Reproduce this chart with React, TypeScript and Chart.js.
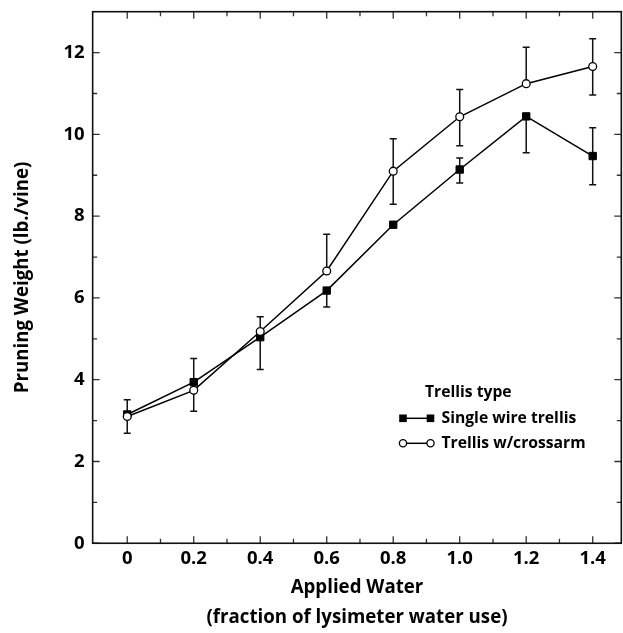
import React, { useEffect, useRef } from 'react';
import { Chart, registerables } from 'chart.js';

Chart.register(...registerables);

// ---- data ----
const waterFractions = [0, 0.2, 0.4, 0.6, 0.8, 1.0, 1.2, 1.4];
const singleWire = [3.15, 3.94, 5.04, 6.18, 7.79, 9.14, 10.44, 9.47];
const singleWireErrUp = [0.36, 0.58, 0, 0, 0, 0.28, 0, 0.69];
const singleWireErrDown = [0, 0, 0.79, 0.4, 0, 0.33, 0.89, 0.7];
const crossarm = [3.1, 3.74, 5.18, 6.66, 9.1, 10.43, 11.24, 11.66];
const crossarmErrUp = [0, 0, 0.36, 0.9, 0.79, 0.67, 0.89, 0.68];
const crossarmErrDown = [0.41, 0.51, 0, 0, 0.81, 0.71, 0, 0.7];

const xTickLabels = [0, 0.2, 0.4, 0.6, 0.8, 1.0, 1.2, 1.4];
const xMinorTicks = [0.1, 0.3, 0.5, 0.7, 0.9, 1.1, 1.3];
const yTickLabels = [0, 2, 4, 6, 8, 10, 12];
const yMinorTicks = [1, 3, 5, 7, 9, 11];

const seriesNames = ['Single wire trellis', 'Trellis w/crossarm'];
const legendTitle = 'Trellis type';
const xTitle = ['Applied Water', '(fraction of lysimeter water use)'];
const yTitle = 'Pruning Weight (lb./vine)';

const FONT = "'Open Sans', 'Noto Sans', sans-serif";

const errorBarPlugin = {
  id: 'errorBars',
  beforeDatasetsDraw(chart: any) {
    const { ctx } = chart;
    const ys = chart.scales.y;
    chart.data.datasets.forEach((ds: any, di: number) => {
      const meta = chart.getDatasetMeta(di);
      ctx.save();
      ctx.strokeStyle = '#111';
      ctx.lineWidth = 1.5;
      meta.data.forEach((pt: any, i: number) => {
        const v = ds.data[i].y;
        const up = ds.errUp[i];
        const down = ds.errDown[i];
        const x = pt.x;
        const cap = 3.5;
        if (up > 0) {
          const yt = ys.getPixelForValue(v + up);
          ctx.beginPath();
          ctx.moveTo(x, pt.y);
          ctx.lineTo(x, yt);
          ctx.moveTo(x - cap, yt);
          ctx.lineTo(x + cap, yt);
          ctx.stroke();
        }
        if (down > 0) {
          const yb = ys.getPixelForValue(v - down);
          ctx.beginPath();
          ctx.moveTo(x, pt.y);
          ctx.lineTo(x, yb);
          ctx.moveTo(x - cap, yb);
          ctx.lineTo(x + cap, yb);
          ctx.stroke();
        }
      });
      ctx.restore();
    });
  },
};

const framePlugin = {
  id: 'frameTicks',
  afterDatasetsDraw(chart: any) {
    const { ctx, chartArea } = chart;
    const { left, right, top, bottom } = chartArea;
    const xs = chart.scales.x;
    const ys = chart.scales.y;
    ctx.save();
    ctx.strokeStyle = '#333';
    ctx.lineWidth = 1.3;
    const major = 7;
    const minor = 4.5;
    const drawX = (vals: number[], len: number) => {
      vals.forEach((v) => {
        const px = xs.getPixelForValue(v);
        ctx.beginPath();
        ctx.moveTo(px, bottom);
        ctx.lineTo(px, bottom - len);
        ctx.moveTo(px, top);
        ctx.lineTo(px, top + len);
        ctx.stroke();
      });
    };
    const drawY = (vals: number[], len: number) => {
      vals.forEach((v) => {
        const py = ys.getPixelForValue(v);
        ctx.beginPath();
        ctx.moveTo(left, py);
        ctx.lineTo(left + len, py);
        ctx.moveTo(right, py);
        ctx.lineTo(right - len, py);
        ctx.stroke();
      });
    };
    drawX(xTickLabels, major);
    drawX(xMinorTicks, minor);
    drawY(yTickLabels, major);
    drawY(yMinorTicks, minor);
    ctx.strokeStyle = '#111';
    ctx.lineWidth = 1.6;
    ctx.strokeRect(left, top, right - left, bottom - top);
    ctx.restore();
  },
};

const legendPlugin = {
  id: 'trellisLegend',
  afterDraw(chart: any) {
    const { ctx } = chart;
    const o = chart.options.plugins.trellisLegend;
    ctx.save();
    ctx.fillStyle = '#000';
    ctx.textBaseline = 'middle';
    ctx.textAlign = 'left';
    ctx.font = `bold 15.7px ${FONT}`;
    ctx.fillText(legendTitle, o.titleX, o.titleY);
    chart.data.datasets.forEach((ds: any, i: number) => {
      const y = o.rowY[i];
      const x1 = o.markerX1;
      const x2 = o.markerX2;
      ctx.strokeStyle = '#000';
      ctx.lineWidth = 1.5;
      ctx.beginPath();
      ctx.moveTo(x1, y);
      ctx.lineTo(x2, y);
      ctx.stroke();
      [x1, x2].forEach((x) => {
        if (ds.pointStyle === 'rect') {
          ctx.fillStyle = '#000';
          ctx.fillRect(x - 3.8, y - 3.8, 7.6, 7.6);
        } else {
          ctx.beginPath();
          ctx.arc(x, y, 3.6, 0, Math.PI * 2);
          ctx.fillStyle = '#fff';
          ctx.fill();
          ctx.lineWidth = 1.3;
          ctx.stroke();
        }
      });
      ctx.fillStyle = '#000';
      ctx.fillText(ds.label, o.textX, y);
    });
    ctx.restore();
  },
};

export default function App() {
  const ref = useRef<HTMLCanvasElement>(null);
  useEffect(() => {
    if (!ref.current) return;
    const chart = new Chart(ref.current, {
      type: 'scatter',
      data: {
        datasets: [
          {
            label: seriesNames[0],
            data: waterFractions.map((x, i) => ({ x, y: singleWire[i] })),
            errUp: singleWireErrUp,
            errDown: singleWireErrDown,
            showLine: true,
            borderColor: '#000',
            borderWidth: 1.5,
            pointStyle: 'rect',
            pointRadius: 5.2,
            pointBackgroundColor: '#000',
            pointBorderColor: '#000',
            pointBorderWidth: 1,
            order: 1,
          } as any,
          {
            label: seriesNames[1],
            data: waterFractions.map((x, i) => ({ x, y: crossarm[i] })),
            errUp: crossarmErrUp,
            errDown: crossarmErrDown,
            showLine: true,
            borderColor: '#000',
            borderWidth: 1.5,
            pointStyle: 'circle',
            pointRadius: 3.9,
            pointBackgroundColor: '#fff',
            pointBorderColor: '#000',
            pointBorderWidth: 1.3,
            order: 0,
          } as any,
        ],
      },
      options: {
        responsive: false,
        animation: false,
        events: [],
        layout: { autoPadding: false, padding: { top: 11.7, right: 1.7, left: 0, bottom: 0 } },
        plugins: {
          legend: { display: false },
          tooltip: { enabled: false },
          trellisLegend: {
            titleX: 425,
            titleY: 392.7,
            rowY: [418.3, 443.3],
            markerX1: 403,
            markerX2: 430.5,
            textX: 441.5,
          },
        } as any,
        scales: {
          x: {
            type: 'linear',
            min: -0.104,
            max: 1.486,
            grid: { display: false, drawTicks: false },
            border: { display: false },
            afterBuildTicks: (s: any) => {
              s.ticks = xTickLabels.map((v) => ({ value: v }));
            },
            ticks: {
              autoSkip: false,
              maxRotation: 0,
              padding: 4.7,
              color: '#000',
              font: { family: FONT, weight: 'bold', size: 18.5, lineHeight: 1.2 },
              callback: (v: any) => (Number(v) === 0 ? '0' : Number(v).toFixed(1)),
            },
            title: {
              display: true,
              text: xTitle,
              color: '#000',
              font: { family: FONT, weight: 'bold', size: 18.7, lineHeight: 1.6 },
              padding: { top: -1.7, bottom: 0 },
            },
          },
          y: {
            type: 'linear',
            min: 0,
            max: 13,
            grid: { display: false, drawTicks: false },
            border: { display: false },
            afterBuildTicks: (s: any) => {
              s.ticks = yTickLabels.map((v) => ({ value: v }));
            },
            ticks: {
              autoSkip: false,
              padding: 8,
              color: '#000',
              font: { family: FONT, weight: 'bold', size: 18.5, lineHeight: 0.35 },
              callback: (v: any) => String(v),
            },
            title: {
              display: true,
              text: yTitle,
              color: '#000',
              font: { family: FONT, weight: 'bold', size: 18.7, lineHeight: 1.2 },
              padding: { top: 11.4, bottom: 21.66 },
            },
          },
        },
      },
      plugins: [errorBarPlugin, framePlugin, legendPlugin],
    });
    return () => chart.destroy();
  }, []);
  return (
    <div style={{ position: 'absolute', left: 0, top: 0, width: 623, height: 633, background: '#fff' }}>
      <canvas ref={ref} width={623} height={633} />
    </div>
  );
}
